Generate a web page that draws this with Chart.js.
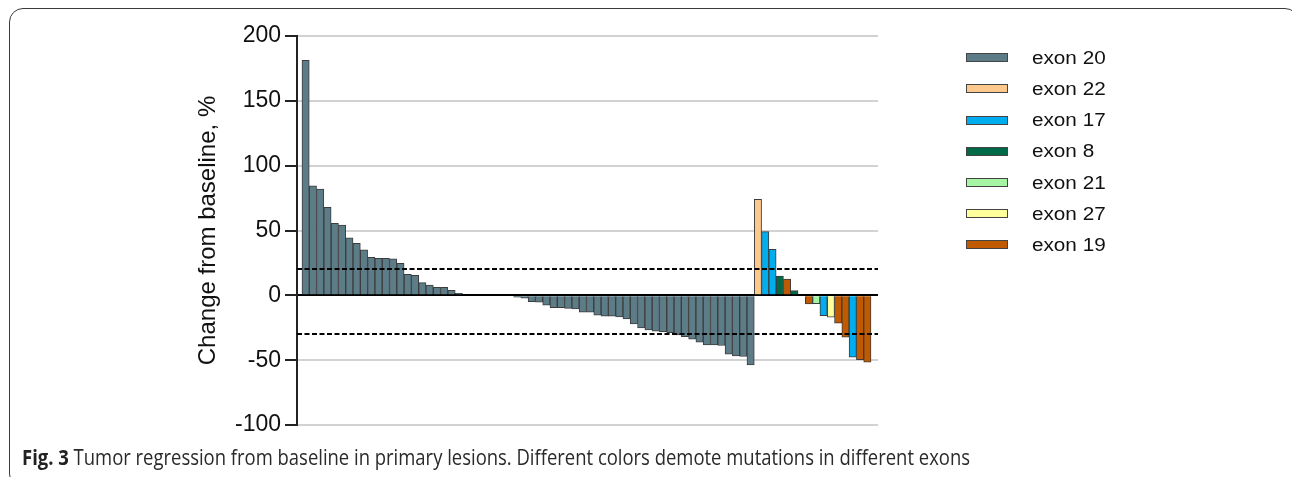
<!DOCTYPE html>
<html>
<head>
<meta charset="utf-8">
<script src="https://cdn.jsdelivr.net/npm/chart.js@4.4.1/dist/chart.umd.min.js"></script>
<style>
  html, body { margin: 0; padding: 0; background: #fff; }
  body { width: 1292px; height: 477px; position: relative; overflow: hidden; font-family: "Liberation Sans", Arial, sans-serif; }
  #wrap { position: absolute; left: 0; top: 0; width: 1292px; height: 477px; }
  #frame { position: absolute; left: 9px; top: 8px; width: 1290px; height: 480px; border: 1.5px solid #3a3a3a; border-radius: 14px; box-sizing: border-box; }
  .lg-box { position: absolute; width: 42px; height: 9px; box-sizing: border-box; border: 1px solid #444; }
  .lg-txt { position: absolute; font-size: 18px; color: #111; transform: scaleX(1.15); transform-origin: left center; line-height: 20px; white-space: nowrap; }
  #caption { position: absolute; left: 22px; top: 445px; font-family: "Open Sans", sans-serif; font-size: 21px; color: #2a2a2a; white-space: nowrap; transform-origin: left top; line-height: 25px; }
  #caption b { font-weight: 700; color: #222; }
</style>
</head>
<body>
<div id="frame"></div>
<div id="wrap"><canvas id="c"></canvas></div>
<div id="legend"></div>
<div id="caption"><b>Fig. 3</b> Tumor regression from baseline in primary lesions. Different colors demote mutations in different exons</div>
<script>
// ---- data ----
const exonNames = ["exon 20", "exon 22", "exon 17", "exon 8", "exon 21", "exon 27", "exon 19"];
const exonColors = ["#5c7c88", "#fcc88c", "#00aeef", "#006a48", "#a4f5a4", "#ffff9c", "#c05a00"];

// change from baseline (%) for each patient, left to right
const changeValues = [
  181.3, 84.5, 81.9, 67.8, 55.5, 54.2, 44.4, 40.1, 35.0, 29.3, 28.6, 28.6, 28.1, 24.7, 16.2, 15.5, 9.8, 8.0, 6.2, 6.2, 3.9, 1.6,
  0, 0, 0, 0, 0, 0, 0,
  -1.5, -2.2, -4.8, -5.2, -7.6, -9.6, -9.6, -10.0, -10.4, -13.0, -13.0, -15.3, -16.0, -16.0, -16.6, -18.2, -22.0, -25.2, -26.6, -27.6, -28.0, -28.7,
  -30.5, -31.8, -33.8, -36.1, -38.2, -38.2, -38.7, -45.4, -46.7, -47.2, -53.6,
  74.0, 49.1, 35.5, 14.9, 12.6, 3.6, null, -6.6, -6.5, -15.6, -16.9, -21.5, -32.3, -47.7, -49.7, -51.5
];
// exon of each patient (index into exonNames), same order
const patientExon = [
  0,0,0,0,0,0,0,0,0,0,0,0,0,0,0,0,0,0,0,0,0,0,
  0,0,0,0,0,0,0,
  0,0,0,0,0,0,0,0,0,0,0,0,0,0,0,0,0,0,0,0,0,0,
  0,0,0,0,0,0,0,0,0,0,0,
  1,2,2,3,6,3,null,6,4,2,5,6,6,2,6,6
];
const yTicks = [-100, -50, 0, 50, 100, 150, 200];
const thresholds = [20, -30];

// ---- build datasets ----
const datasets = exonNames.map((name, k) => ({
  label: name,
  data: changeValues.map((v, i) => ({ x: i, y: v })).filter((p, i) => patientExon[i] === k && p.y !== null),
  backgroundColor: exonColors[k],
  borderColor: "#3c3c3c",
  borderWidth: 1,
  grouped: false,
  barPercentage: 1,
  categoryPercentage: 1
}));

const thresholdPlugin = {
  id: "thresholds",
  afterDatasetsDraw(chart) {
    const { ctx, chartArea, scales } = chart;
    ctx.save();
    ctx.strokeStyle = "#000";
    ctx.lineWidth = 2;
    ctx.setLineDash([5, 2.5]);
    thresholds.forEach(t => {
      const y = Math.round(scales.y.getPixelForValue(t));
      ctx.beginPath();
      ctx.moveTo(chartArea.left, y);
      ctx.lineTo(chartArea.right, y);
      ctx.stroke();
    });
    ctx.restore();
  }
};

const n = changeValues.length;
new Chart(document.getElementById("c"), {
  type: "bar",
  data: { datasets },
  plugins: [thresholdPlugin],
  options: {
    responsive: true,
    maintainAspectRatio: false,
    animation: false,
    devicePixelRatio: 1,
    layout: { padding: { left: 190, top: 36, right: 414, bottom: 52 } },
    plugins: { legend: { display: false }, tooltip: { enabled: false } },
    scales: {
      x: {
        type: "linear",
        display: false,
        offset: false,
        grid: { offset: false },
        min: -1.18,
        max: n - 1 + 1.46
      },
      y: {
        min: -100,
        max: 200,
        afterFit(scale) { scale.width = 107; },
        afterBuildTicks(scale) { scale.ticks = yTicks.map(v => ({ value: v })); },
        ticks: {
          font: { family: "Liberation Sans, Arial, sans-serif", size: 23 },
          color: "#111",
          padding: 4
        },
        grid: {
          color: c => (c.tick && c.tick.value === 0 ? "#000" : "#d2d2d2"),
          lineWidth: 2,
          tickColor: "#222",
          tickLength: 12,
          tickWidth: 2
        },
        border: { display: true, color: "#222", width: 2 },
        title: {
          display: true,
          text: "Change from baseline, %",
          font: { family: "Liberation Sans, Arial, sans-serif", size: 24 },
          color: "#111",
          padding: { top: 4, bottom: 4 }
        }
      }
    }
  }
});

// ---- legend (HTML, built from exon arrays) ----
const lg = document.getElementById("legend");
exonNames.forEach((name, k) => {
  const cy = 57.7 + 31.2 * k;
  const b = document.createElement("div");
  b.className = "lg-box";
  b.style.left = "966px";
  b.style.top = (cy - 4.5) + "px";
  b.style.background = exonColors[k];
  lg.appendChild(b);
  const t = document.createElement("div");
  t.className = "lg-txt";
  t.style.left = "1032px";
  t.style.top = (cy - 10) + "px";
  t.textContent = name;
  lg.appendChild(t);
});

// ---- caption fit ----
const cap = document.getElementById("caption");
const w = cap.getBoundingClientRect().width;
cap.style.transform = "scaleX(" + (948 / w) + ")";
</script>
</body>
</html>
